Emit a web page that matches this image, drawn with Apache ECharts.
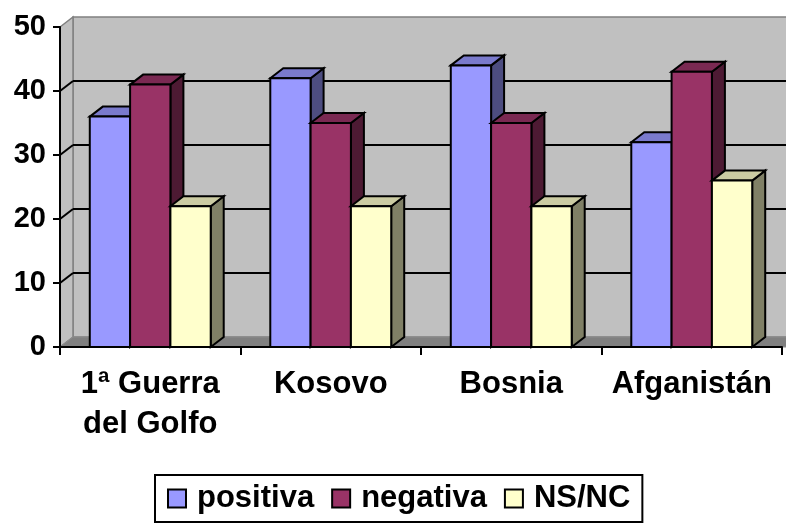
<!DOCTYPE html>
<html>
<head>
<meta charset="utf-8">
<script src="https://cdn.jsdelivr.net/npm/echarts@6/dist/echarts.min.js"></script>
<style>html,body{margin:0;padding:0;background:#fff}#c{width:786px;height:523px}</style>
</head>
<body>
<div id="c"></div>
<script>
// ---- data ----
const categories = ['1ª Guerra del Golfo', 'Kosovo', 'Bosnia', 'Afganistán'];
const seriesNames = ['positiva', 'negativa', 'NS/NC'];
const positiva = [36, 42, 44, 32];
const negativa = [41, 35, 35, 43];
const nsnc = [22, 22, 22, 26];
const yTicks = [0, 10, 20, 30, 40, 50];

// ---- style ----
const FONT = '"Liberation Sans", Arial, sans-serif';
const DX = 13, DY = -10;          // 3D depth offset
const GAP = 0.33;                 // category gap ratio
const faceColors = [
  { front: '#9999FF', top: '#7A7ACC', side: '#4D4D80' },
  { front: '#993366', top: '#7A2952', side: '#4D1A33' },
  { front: '#FFFFCC', top: '#CCCCA3', side: '#808066' }
];

function barRenderer(si) {
  const c = faceColors[si];
  return function (params, api) {
    const idx = api.value(0), val = api.value(1);
    const top = api.coord([idx, val]);
    const base = api.coord([idx, 0]);
    const catW = api.size([1, 0])[0];
    const bw = catW * (1 - GAP) / 3;
    const x0 = top[0] - 1.5 * bw + si * bw;
    const x1 = x0 + bw;
    const yt = top[1], yb = base[1];
    const st = { stroke: '#000', lineWidth: 2, lineJoin: 'miter' };
    return {
      type: 'group',
      children: [
        { type: 'polygon', shape: { points: [[x1, yt], [x1 + DX, yt + DY], [x1 + DX, yb + DY], [x1, yb]] },
          style: Object.assign({ fill: c.side }, st) },
        { type: 'polygon', shape: { points: [[x0, yt], [x0 + DX, yt + DY], [x1 + DX, yt + DY], [x1, yt]] },
          style: Object.assign({ fill: c.top }, st) },
        { type: 'rect', shape: { x: x0, y: yt, width: bw, height: yb - yt },
          style: Object.assign({ fill: c.front }, st) }
      ]
    };
  };
}

function wallRenderer(params, api) {
  const cs = params.coordSys;
  const x = cs.x, y = cs.y, w = cs.width, h = cs.height;
  return {
    type: 'group',
    children: [
      { type: 'rect', shape: { x: x + DX, y: y + DY, width: w + 20, height: h },
        style: { fill: '#C0C0C0', stroke: '#808080', lineWidth: 1.5 } },
      { type: 'polygon', shape: { points: [[x, y], [x + DX, y + DY], [x + DX, y + h + DY], [x, y + h]] },
        style: { fill: '#C0C0C0', stroke: '#808080', lineWidth: 1.5 } },
      { type: 'polygon', shape: { points: [[x, y + h], [x + DX, y + h + DY], [x + w + DX + 20, y + h + DY], [x + w + 20, y + h]] },
        style: { fill: '#808080', stroke: '#8C8C8C', lineWidth: 1 } }
    ]
  };
}

function gridRenderer(params, api) {
  const cs = params.coordSys;
  const v = api.value(1);
  if (v <= yTicks[0] || v >= yTicks[yTicks.length - 1]) return null;
  const yy = api.coord([0, v])[1];
  const st = { stroke: '#000', lineWidth: 2 };
  return {
    type: 'group',
    children: [
      { type: 'line', shape: { x1: cs.x + DX, y1: yy + DY, x2: cs.x + cs.width + DX + 20, y2: yy + DY }, style: st },
      { type: 'line', shape: { x1: cs.x, y1: yy, x2: cs.x + DX, y2: yy + DY }, style: st }
    ]
  };
}

const chart = echarts.init(document.getElementById('c'), null, { renderer: 'canvas' });
const valueSets = [positiva, negativa, nsnc];

const series = [
  { type: 'custom', name: '_walls', renderItem: wallRenderer, data: [[0, 0]], z: 1, silent: true },
  { type: 'custom', name: '_grid', renderItem: gridRenderer, data: yTicks.map(v => [0, v]), z: 1.5, silent: true }
];
valueSets.forEach((vals, si) => {
  series.push({
    type: 'custom',
    name: seriesNames[si],
    renderItem: barRenderer(si),
    encode: { x: 0, y: 1 },
    data: vals.map((v, i) => [i, v]),
    itemStyle: { color: faceColors[si].front, borderColor: '#000', borderWidth: 2 },
    z: 2 + si
  });
});

chart.setOption({
  animation: false,
  backgroundColor: '#fff',
  grid: { left: 60, right: 4, top: 27, bottom: 176, containLabel: false },
  xAxis: {
    type: 'category',
    data: categories,
    z: 10,
    axisLine: { lineStyle: { color: '#000', width: 2 } },
    axisTick: { show: true, length: 8, lineStyle: { color: '#000', width: 2 } },
    axisLabel: {
      interval: 0, margin: 17, color: '#000', fontFamily: FONT, fontWeight: 'bold',
      fontSize: 31, lineHeight: 40,
      formatter: v => v.replace(' del ', '\ndel ')
    },
    splitLine: { show: false }
  },
  yAxis: {
    type: 'value',
    min: yTicks[0], max: yTicks[yTicks.length - 1], interval: yTicks[1] - yTicks[0],
    z: 10,
    axisLine: { show: true, lineStyle: { color: '#000', width: 2 } },
    axisTick: { show: true, length: 7, lineStyle: { color: '#000', width: 2 } },
    axisLabel: { margin: 14, color: '#000', fontFamily: FONT, fontWeight: 'bold', fontSize: 29 },
    splitLine: { show: false }
  },
  legend: {
    data: seriesNames,
    left: 155, top: 475,
    orient: 'horizontal',
    padding: [8, 12, 8, 12],
    itemGap: 17,
    itemWidth: 18, itemHeight: 18,
    icon: 'rect',
    borderColor: '#000', borderWidth: 2,
    itemStyle: { borderColor: '#000', borderWidth: 2 },
    textStyle: { color: '#000', fontFamily: FONT, fontWeight: 'bold', fontSize: 31, lineHeight: 31, padding: [0, 0, 0, 6] },
    selectedMode: false
  },
  series: series
});
</script>
</body>
</html>
